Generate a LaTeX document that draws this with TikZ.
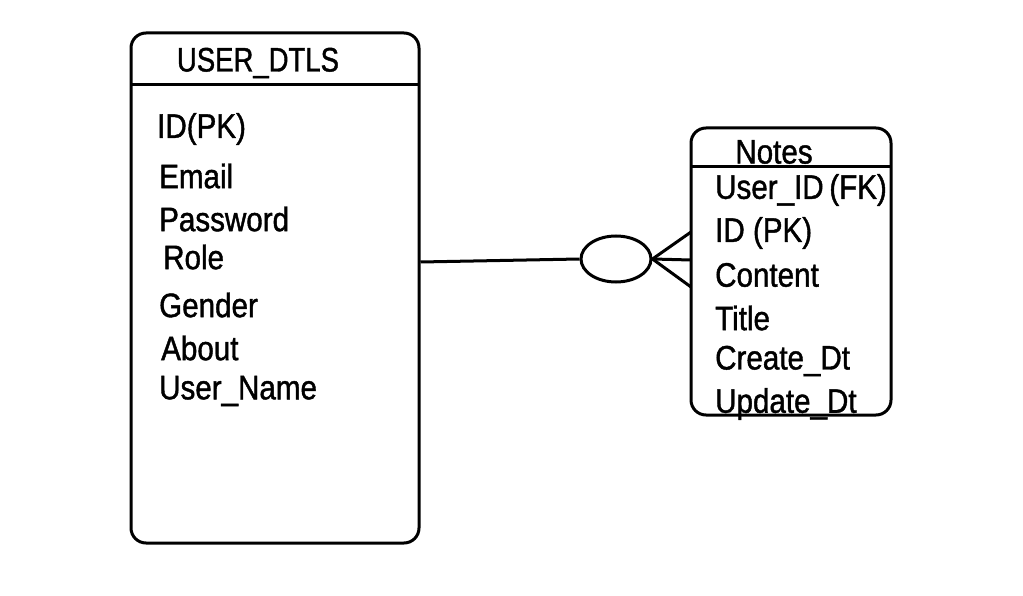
\documentclass[tikz,border=0pt]{standalone}
\usepackage{fontspec}
\setmainfont{Liberation Sans}[FakeStretch=0.87,FakeBold=1.2]
\usetikzlibrary{positioning,shapes.geometric}
\tikzset{
  entity/.style={rectangle, draw=black, line width=3pt, rounded corners=15pt, inner sep=0pt},
  title/.style={font=\fontsize{34}{36}\selectfont, anchor=center},
  attr/.style={font=\fontsize{34}{36}\selectfont, anchor=west, inner sep=0pt},
  link/.style={draw=black, line width=3pt},
}
\begin{document}
\begin{tikzpicture}[x=1pt,y=-1pt]
  \useasboundingbox (0,0) rectangle (1023,596);
  % user table
  \node[entity, minimum width=288pt, minimum height=510pt] (user) at (275,288) {};
  \draw[link] (131,85) -- (419,85);
  \node[title, xscale=0.93] (userhead) at (258,63) {USER\_DTLS};
  \foreach \y/\x/\t [count=\i] in {129/157/ID(PK), 176/159/Email, 219/159/Password,
      257/163/Role, 305/159/Gender, 348/161/About, 391/159/User\_Name}
    {\node[attr] (ua\i) at (\x,\y) {\t};}
  % notes table
  \node[entity, minimum width=200pt, minimum height=287pt] (notes) at (791,271.5) {};
  \draw[link] (691,167) -- (891,167);
  \node[title] (noteshead) at (774,152) {Notes};
  \foreach \y/\t [count=\i] in {190/User\_ID\,(FK), 233/ID (PK), 275/Content,
      318/Title, 361/Create\_Dt, 404/Update\_Dt}
    {\node[attr] (na\i) at (715,\y) {\t};}
  % relation: zero or many
  \node[ellipse, draw=black, line width=3pt, minimum width=70pt, minimum height=46pt, inner sep=0pt] (opt) at (616,259) {};
  \coordinate (ft) at (691,232);
  \coordinate (fm) at (691,260);
  \coordinate (fb) at (691,287);
  \draw[link] (user.east |- 0,262) -- (opt.west);
  \draw[link] (ft) -- (opt.east) -- (fb);
  \draw[link] (opt.east) -- (fm);
\end{tikzpicture}
\end{document}
